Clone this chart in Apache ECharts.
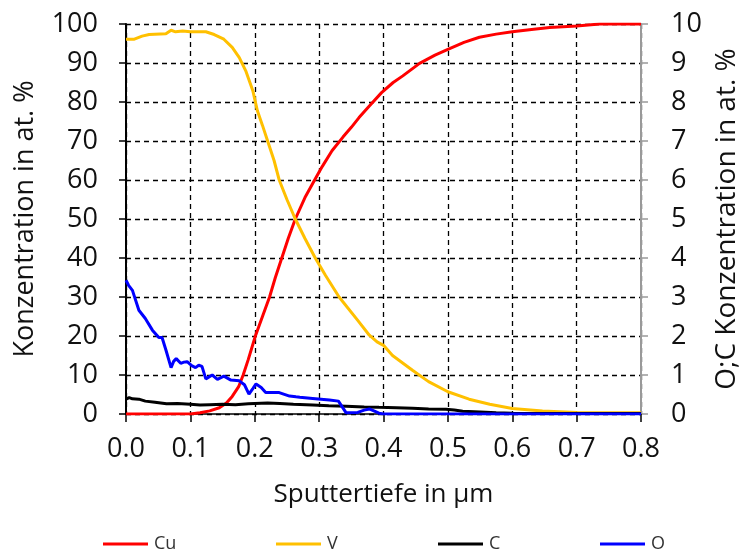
<!DOCTYPE html>
<html>
<head>
<meta charset="utf-8">
<script src="https://cdn.jsdelivr.net/npm/echarts@6/dist/echarts.min.js"></script>
<style>html,body{margin:0;padding:0;background:#fff;overflow:hidden}#c{width:741px;height:557px}</style>
</head>
<body>
<div id="c"></div>
<script>
// Depth in µm, Cu and V on left axis (at.%), C and O on right axis (at.%)
const cuDepth = [0, 0.05, 0.10, 0.115, 0.13, 0.145, 0.156, 0.165, 0.175, 0.182, 0.19, 0.201, 0.212, 0.223, 0.232, 0.242, 0.252, 0.263, 0.278, 0.293, 0.305, 0.32, 0.337, 0.35, 0.362, 0.378, 0.397, 0.415, 0.43, 0.456, 0.48, 0.5, 0.525, 0.549, 0.575, 0.6, 0.63, 0.658, 0.7, 0.736, 0.8];
const cuValue = [0, 0, 0, 0.3, 0.8, 1.6, 2.8, 4.5, 7, 10, 14, 20, 25, 30, 35, 40, 45, 50, 55.5, 60, 63.5, 67.5, 71, 73.5, 76, 79, 82.4, 85, 86.7, 89.9, 92, 93.5, 95.3, 96.6, 97.4, 98, 98.6, 99.1, 99.5, 100, 100];

const vDepth = [0, 0.013, 0.025, 0.036, 0.062, 0.07, 0.077, 0.088, 0.1, 0.124, 0.137, 0.152, 0.165, 0.176, 0.186, 0.197, 0.204, 0.212, 0.22, 0.23, 0.238, 0.25, 0.263, 0.278, 0.294, 0.31, 0.331, 0.36, 0.378, 0.39, 0.4, 0.414, 0.445, 0.47, 0.5, 0.533, 0.565, 0.6, 0.647, 0.7, 0.75, 0.8];
const vValue = [96.1, 96.1, 96.9, 97.3, 97.5, 98.4, 98, 98.2, 98, 98, 97.3, 96.1, 94, 91.4, 88, 82.9, 77.8, 74, 70, 65, 60, 55, 50, 45, 40, 35.5, 30, 24, 20.2, 18.5, 17.6, 15, 11.2, 8.3, 5.7, 3.8, 2.5, 1.4, 0.8, 0.4, 0.3, 0.3];

const cDepth = [0, 0.005, 0.01, 0.02, 0.03, 0.045, 0.063, 0.08, 0.1, 0.115, 0.13, 0.15, 0.17, 0.19, 0.2, 0.22, 0.239, 0.26, 0.29, 0.315, 0.342, 0.37, 0.393, 0.42, 0.445, 0.47, 0.497, 0.51, 0.523, 0.55, 0.575, 0.6, 0.65, 0.7, 0.8];
const cValue = [0.38, 0.42, 0.39, 0.38, 0.33, 0.3, 0.26, 0.27, 0.25, 0.23, 0.24, 0.25, 0.24, 0.26, 0.27, 0.28, 0.27, 0.25, 0.23, 0.21, 0.2, 0.18, 0.17, 0.16, 0.15, 0.13, 0.12, 0.1, 0.07, 0.05, 0.03, 0.02, 0.01, 0.01, 0.01];

const oDepth = [0, 0.004, 0.01, 0.02, 0.03, 0.041, 0.051, 0.056, 0.062, 0.07, 0.074, 0.078, 0.085, 0.09, 0.095, 0.102, 0.108, 0.113, 0.118, 0.124, 0.134, 0.142, 0.152, 0.163, 0.176, 0.184, 0.191, 0.197, 0.202, 0.21, 0.217, 0.238, 0.254, 0.264, 0.27, 0.29, 0.316, 0.33, 0.342, 0.36, 0.37, 0.378, 0.393, 0.4, 0.5, 0.6, 0.7, 0.8];
const oValue = [3.43, 3.3, 3.17, 2.66, 2.45, 2.15, 1.96, 1.96, 1.64, 1.19, 1.35, 1.42, 1.3, 1.33, 1.34, 1.24, 1.19, 1.25, 1.22, 0.9, 1.0, 0.89, 0.97, 0.87, 0.85, 0.75, 0.51, 0.65, 0.77, 0.68, 0.55, 0.55, 0.46, 0.44, 0.43, 0.40, 0.36, 0.33, 0.03, 0.04, 0.1, 0.13, 0.02, 0, 0, 0, 0, 0];

const seriesNames = ['Cu', 'V', 'C', 'O'];
const seriesColors = ['#ff0000', '#ffc000', '#000000', '#0000ff'];

const pairs = (xs, ys) => xs.map((x, i) => [x, ys[i]]);
const FONT = '"Open Sans", "Noto Sans", sans-serif';

const chart = echarts.init(document.getElementById('c'), null, {renderer: 'canvas', width: 741, height: 557});
const dashed = {show: true, lineStyle: {color: '#000', type: [5, 4], width: 1.3}};

const legendLefts = [103, 276, 438, 600];

chart.setOption({
  animation: false,
  backgroundColor: '#fff',
  textStyle: {fontFamily: FONT},
  grid: {left: 126, right: 100, top: 24, bottom: 143, containLabel: false, outerBoundsMode: 'none'},
  legend: seriesNames.map((n, i) => ({
    data: [n], left: legendLefts[i], top: 535, padding: 0, icon: 'rect', itemWidth: 45, itemHeight: 3, itemGap: 0,
    textStyle: {fontFamily: FONT, fontSize: 18, color: '#333', padding: [0, 0, 0, 1]}
  })),
  xAxis: {
    type: 'value', min: 0, max: 0.8, interval: 0.1,
    name: 'Sputtertiefe in µm', nameLocation: 'middle', nameGap: 68,
    nameTextStyle: {fontFamily: FONT, fontSize: 26, color: '#111'},
    axisLine: {show: true, onZero: false, lineStyle: {color: '#000', width: 1.5}},
    axisTick: {show: true, length: 8, lineStyle: {color: '#000', width: 1.5}},
    axisLabel: {margin: 22, fontSize: 27, color: '#111', fontFamily: FONT, formatter: v => v.toFixed(1)},
    splitLine: dashed
  },
  yAxis: [{
    type: 'value', min: 0, max: 100, interval: 10, position: 'left',
    name: 'Konzentration in at. %', nameLocation: 'middle', nameGap: 87, nameRotate: 90,
    nameTextStyle: {fontFamily: FONT, fontSize: 27, color: '#111'},
    axisLine: {show: true, lineStyle: {color: '#000', width: 2}},
    axisTick: {show: true, length: 7, lineStyle: {color: '#000', width: 1.5}},
    axisLabel: {margin: 28, fontSize: 27, color: '#111', fontFamily: FONT},
    splitLine: dashed
  }, {
    type: 'value', min: 0, max: 10, interval: 1, position: 'right',
    name: 'O;C Konzentration in at. %', nameLocation: 'middle', nameGap: 72, nameRotate: 90,
    nameTextStyle: {fontFamily: FONT, fontSize: 28, color: '#111'},
    axisLine: {show: true, lineStyle: {color: '#999', width: 2}},
    axisTick: {show: true, length: 7, lineStyle: {color: '#999', width: 1.5}},
    axisLabel: {margin: 30, fontSize: 27, color: '#111', fontFamily: FONT},
    splitLine: {show: false}
  }],
  series: [
    {name: 'Cu', type: 'line', yAxisIndex: 0, data: pairs(cuDepth, cuValue)},
    {name: 'V', type: 'line', yAxisIndex: 0, data: pairs(vDepth, vValue)},
    {name: 'C', type: 'line', yAxisIndex: 1, data: pairs(cDepth, cValue)},
    {name: 'O', type: 'line', yAxisIndex: 1, data: pairs(oDepth, oValue)}
  ].map((s, i) => Object.assign(s, {
    showSymbol: false, symbol: 'none', smooth: false, clip: true,
    color: seriesColors[i],
    lineStyle: {color: seriesColors[i], width: 3}
  }))
});
</script>
</body>
</html>
